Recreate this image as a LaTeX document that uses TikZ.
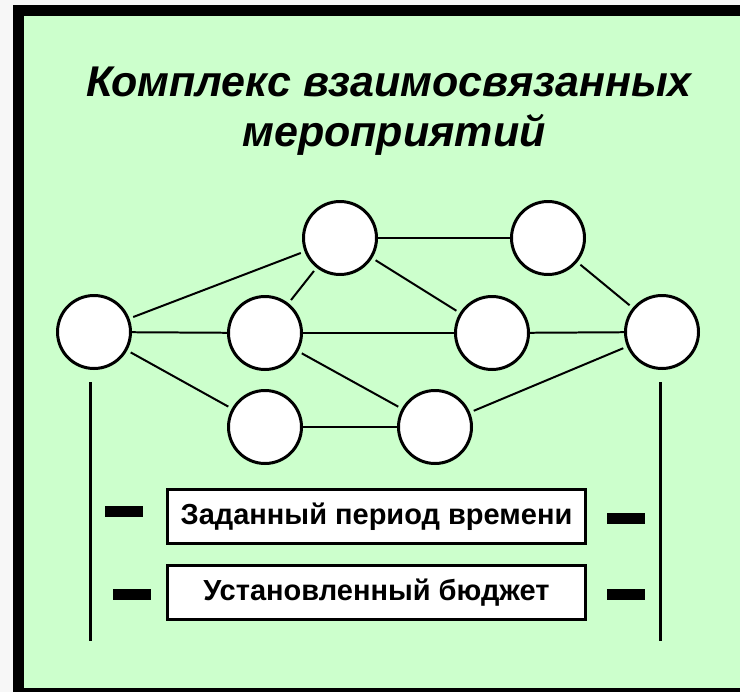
\documentclass[tikz,border=0pt]{standalone}
\usepackage{fontspec}
\setmainfont{Liberation Sans}
\definecolor{pagegrey}{HTML}{F7F7F7}
\definecolor{bggreen}{HTML}{CCFFCC}
\begin{document}
\begin{tikzpicture}[x=1bp,y=-1bp,
  ev/.style={circle,draw=black,line width=3pt,fill=white,minimum size=73bp,inner sep=0pt},
  link/.style={line width=2pt},
  diag/.style={line width=2pt,shorten >=4pt,shorten <=4pt},
  period/.style={line width=3pt},
  bar/.style={fill=black,minimum width=38bp,minimum height=11bp,inner sep=0pt},
  labelbox/.style={draw=black,line width=2.5pt,fill=white,minimum width=418bp,minimum height=54bp,inner sep=0pt,font=\fontsize{29bp}{33bp}\selectfont\bfseries},
  titlefont/.style={font=\fontsize{43bp}{50bp}\selectfont\bfseries\itshape,inner sep=0pt,anchor=base}
]
\useasboundingbox (0,0) rectangle (740,692);
\fill[pagegrey] (-5,-5) rectangle (13,700);
\fill[pagegrey] (-5,-5) rectangle (750,5);
\fill[black] (13,5) rectangle (24,700);
\fill[black] (13,5) rectangle (750,16);
\fill[black] (13,688) rectangle (750,700);
\fill[bggreen] (24,16) rectangle (750,688);

\node[titlefont] (t1) at (389,97) {Комплекс взаимосвязанных};
\node[titlefont] (t2) at (394,147) {мероприятий};

\node[ev] (A) at (94,332) {};
\node[ev] (B) at (340,238) {};
\node[ev] (C) at (548,238) {};
\node[ev] (D) at (265,333) {};
\node[ev] (E) at (492,333) {};
\node[ev] (F) at (662,332) {};
\node[ev] (G) at (265,427) {};
\node[ev] (H) at (435,427) {};

\draw[diag] (A) -- (B);
\draw[link] (A) -- (D);
\draw[diag] (A) -- (G);
\draw[diag] (B) -- (D);
\draw[link] (B) -- (C);
\draw[diag] (B) -- (E);
\draw[link] (D) -- (E);
\draw[diag] (D) -- (H);
\draw[link] (G) -- (H);
\draw[link] (E) -- (F);
\draw[diag] (C) -- (F);
\draw[diag] (H) -- (F);

\coordinate (lt) at (90.5,382);
\coordinate (lb) at (90.5,641);
\coordinate (rt) at (660.5,382);
\coordinate (rb) at (660.5,641);
\draw[period] (lt) -- (lb);
\draw[period] (rt) -- (rb);

\node[labelbox] (p) at (376.5,516.5) {Заданный период времени};
\node[labelbox] (b) at (376.5,592.7) {Установленный бюджет};

\node[bar] (d1) at (124,511) {};
\node[bar] (d2) at (132,594) {};
\node[bar] (d3) at (626,518.5) {};
\node[bar] (d4) at (626,594.5) {};
\end{tikzpicture}
\end{document}
